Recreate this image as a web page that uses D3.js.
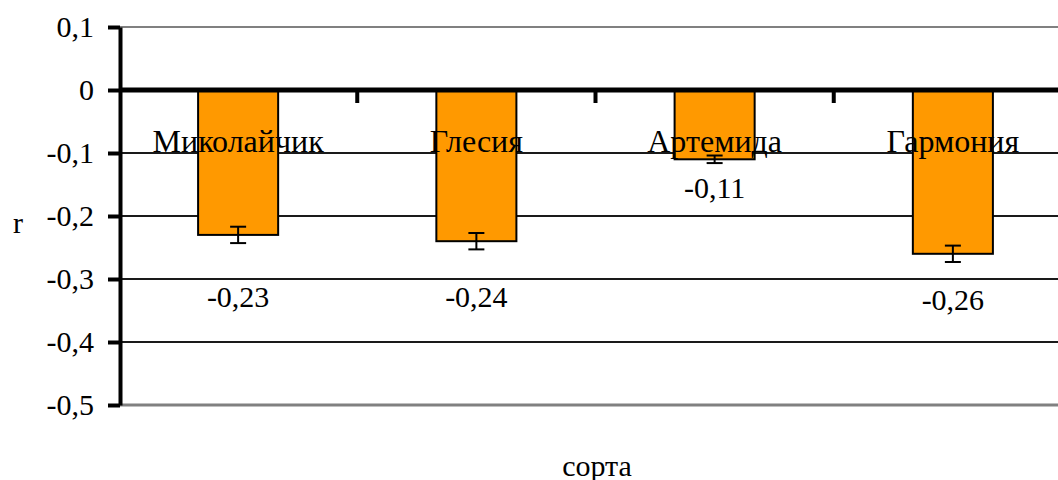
<!DOCTYPE html>
<html>
<head>
<meta charset="utf-8">
<script src="https://cdn.jsdelivr.net/npm/d3@7"></script>
<style>
  body { margin: 0; background: #fff; }
  svg text { font-family: "Times New Roman", "Liberation Serif", "DejaVu Serif", serif; fill: #000; }
</style>
</head>
<body>
<div id="chart"></div>
<script>
const categories = ['Миколайчик', 'Глесия', 'Артемида', 'Гармония'];
const values = [-0.23, -0.24, -0.11, -0.26];
const errors = [0.013, 0.013, 0.006, 0.013];
const valueLabels = ['-0,23', '-0,24', '-0,11', '-0,26'];
const labelAt = [-0.328, -0.328, -0.154, -0.332];
const yTicks = [0.1, 0, -0.1, -0.2, -0.3, -0.4, -0.5];
const yTickLabels = ['0,1', '0', '-0,1', '-0,2', '-0,3', '-0,4', '-0,5'];

const serif = '"Times New Roman", "Liberation Serif", "DejaVu Serif", serif';
const width = 1058, height = 480;
const svg = d3.select('#chart').append('svg')
    .attr('width', width)
    .attr('height', height)
    .attr('font-family', serif);

const yScale = d3.scaleLinear()
    .domain([-0.5, 0.1])
    .range([405, 27]);

const xScale = d3.scaleBand()
    .domain(categories)
    .range([119, 1072]);

const barW = xScale.bandwidth() * 0.336;

// gridlines
svg.selectAll('line.grid')
    .data(yTicks.filter(d => d !== 0))
    .enter()
    .append('line')
    .attr('class', 'grid')
    .attr('x1', 120)
    .attr('x2', width)
    .attr('y1', d => yScale(d))
    .attr('y2', d => yScale(d))
    .attr('stroke', d => (d === 0.1 || d === -0.5) ? '#808080' : '#1a1a1a')
    .attr('stroke-width', d => d === -0.5 ? 3 : 2);

// bars
svg.selectAll('rect.bar')
    .data(values)
    .enter()
    .append('rect')
    .attr('class', 'bar')
    .attr('x', (d, i) => xScale(categories[i]) + (xScale.bandwidth() - barW) / 2)
    .attr('y', yScale(0))
    .attr('width', barW)
    .attr('height', d => yScale(d) - yScale(0))
    .attr('fill', '#ff9900')
    .attr('stroke', '#000')
    .attr('stroke-width', 2);

// error bars
const eb = svg.selectAll('g.err')
    .data(values)
    .enter()
    .append('g')
    .attr('class', 'err')
    .attr('stroke', '#000')
    .attr('stroke-width', 2);
const cx = i => xScale(categories[i]) + xScale.bandwidth() / 2;
eb.append('line')
    .attr('x1', (d, i) => cx(i)).attr('x2', (d, i) => cx(i))
    .attr('y1', (d, i) => yScale(d + errors[i]))
    .attr('y2', (d, i) => yScale(d - errors[i]));
eb.append('line')
    .attr('x1', (d, i) => cx(i) - 8).attr('x2', (d, i) => cx(i) + 8)
    .attr('y1', (d, i) => yScale(d + errors[i]))
    .attr('y2', (d, i) => yScale(d + errors[i]));
eb.append('line')
    .attr('x1', (d, i) => cx(i) - 8).attr('x2', (d, i) => cx(i) + 8)
    .attr('y1', (d, i) => yScale(d - errors[i]))
    .attr('y2', (d, i) => yScale(d - errors[i]));

// zero axis
svg.append('line')
    .attr('x1', 120).attr('x2', width)
    .attr('y1', yScale(0)).attr('y2', yScale(0))
    .attr('stroke', '#000')
    .attr('stroke-width', 5);

svg.selectAll('line.xtick')
    .data(categories.slice(1))
    .enter()
    .append('line')
    .attr('class', 'xtick')
    .attr('x1', d => xScale(d)).attr('x2', d => xScale(d))
    .attr('y1', yScale(0)).attr('y2', yScale(0) + 13)
    .attr('stroke', '#000')
    .attr('stroke-width', 4);

// y axis
const yAxis = d3.axisLeft(yScale)
    .tickValues(yTicks)
    .tickFormat((d, i) => yTickLabels[i])
    .tickSize(12)
    .tickPadding(14)
    .tickSizeOuter(0);

const yAxisGroup = svg.append('g')
    .attr('class', 'axis y-axis')
    .attr('transform', 'translate(120, 0)')
    .call(yAxis)
    .attr('font-family', serif)
    .attr('font-size', 30);
yAxisGroup.select('.domain').attr('stroke', '#000').attr('stroke-width', 4);
yAxisGroup.selectAll('.tick line').attr('stroke', '#000').attr('stroke-width', 4);
yAxisGroup.selectAll('.tick text').attr('fill', '#000');

// category labels
svg.selectAll('text.cat')
    .data(categories)
    .enter()
    .append('text')
    .attr('class', 'cat')
    .attr('x', d => xScale(d) + xScale.bandwidth() / 2)
    .attr('y', yScale(-0.0985))
    .attr('text-anchor', 'middle')
    .attr('font-size', 32)
    .text(d => d);

// value labels
svg.selectAll('text.val')
    .data(valueLabels)
    .enter()
    .append('text')
    .attr('class', 'val')
    .attr('x', (d, i) => cx(i))
    .attr('y', (d, i) => yScale(labelAt[i]))
    .attr('dy', '0.35em')
    .attr('text-anchor', 'middle')
    .attr('font-size', 30)
    .text(d => d);

// axis titles
svg.append('text')
    .attr('x', 18).attr('y', 222)
    .attr('dy', '0.35em')
    .attr('text-anchor', 'middle')
    .attr('font-size', 30)
    .text('r');

svg.append('text')
    .attr('x', 597).attr('y', 465)
    .attr('dy', '0.35em')
    .attr('text-anchor', 'middle')
    .attr('font-size', 30)
    .text('сорта');
</script>
</body>
</html>
